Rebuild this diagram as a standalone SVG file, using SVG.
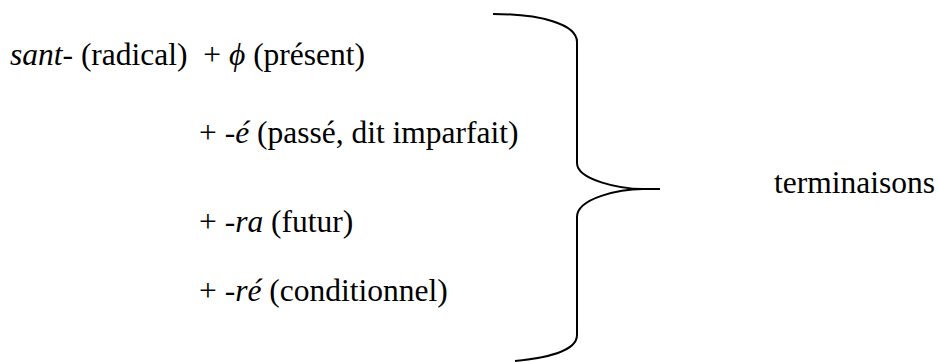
<svg xmlns="http://www.w3.org/2000/svg" width="940" height="362" viewBox="0 0 940 362">
<style>
text{font-family:'Liberation Serif','Times New Roman',serif;font-size:31.5px;fill:#000;white-space:pre}
.i{font-style:italic}
.brace{fill:none;stroke:#000;stroke-width:2}
</style>
<rect width="940" height="362" fill="#fff"/>
<g id="radical"><text x="10" y="65" xml:space="preserve"><tspan class="i">sant</tspan>- (radical)  + <tspan class="i">ϕ</tspan> (présent)</text></g>
<g id="imparfait"><text x="199" y="143">+ -<tspan class="i">é</tspan> (passé, dit imparfait)</text></g>
<g id="futur"><text x="199" y="232">+ -<tspan class="i">ra</tspan> (futur)</text></g>
<g id="conditionnel"><text x="199" y="301">+ -<tspan class="i">ré</tspan> (conditionnel)</text></g>
<g id="connectors"><path class="brace" d="M493,14 C540,14 577,24 577,42 L577,163 C577,180 620,189 643,189 L660,189 M643,189 C620,189 577,198 577,217 L577,335 C577,352 545,358 515,361"/></g>
<g id="terminaisons"><text x="774" y="193">terminaisons</text></g>
</svg>
